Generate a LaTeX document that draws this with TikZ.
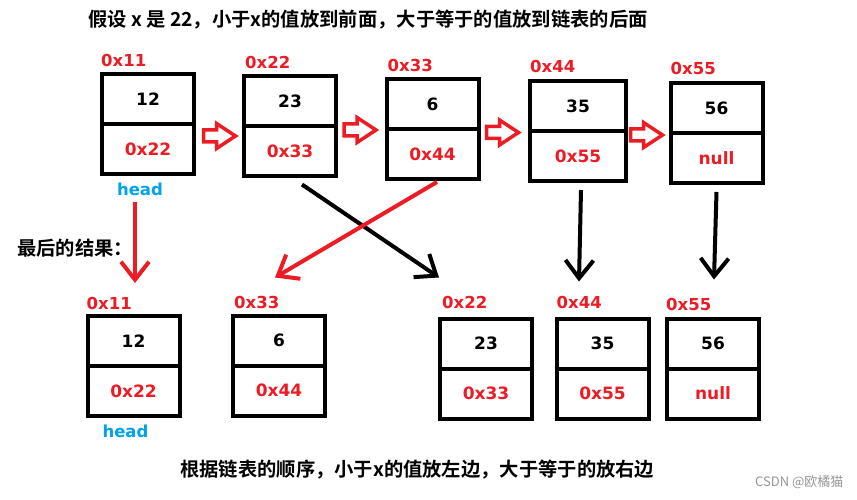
\documentclass[tikz,border=0pt]{standalone}
\usepackage{fontspec}
\setmainfont{DejaVu Sans}
\newfontfamily\cjk{Noto Sans CJK SC}[BoldFont={Noto Sans CJK SC Bold}]
\usetikzlibrary{arrows.meta,calc}
\definecolor{pred}{RGB}{237,28,36}
\definecolor{hblue}{RGB}{0,162,232}
\definecolor{wm}{RGB}{150,150,150}
\tikzset{
  cell/.style={draw=black, line width=4pt, minimum width=92pt, minimum height=50pt,
    inner sep=0pt, font=\bfseries\fontsize{17}{17}\selectfont},
  ptr/.style={cell, text=pred},
  addr/.style={anchor=west, inner sep=0pt, text=pred, font=\bfseries\fontsize{16.5}{16.5}\selectfont},
  headlbl/.style={inner sep=0pt, text=hblue, font=\bfseries\fontsize{16.5}{16.5}\selectfont},
  cjktext/.style={anchor=west, inner sep=0pt, font=\cjk\bfseries\fontsize{19.3}{19.3}\selectfont},
  blkarrow/.style={draw=black, line width=4pt, -{Straight Barb[length=18pt,width=28pt]}},
  redarrow/.style={blkarrow, draw=pred},
  hollowarrow/.pic={\draw[pred, line width=3.5pt, line join=miter]
    (-16,-6) -- (-3,-6) -- (-3,-12.5) -- (16,0) -- (-3,12.5) -- (-3,6) -- (-16,6) -- cycle;}
}
\begin{document}
\begin{tikzpicture}[x=1pt,y=-1pt]
\useasboundingbox (0,0) rectangle (857,500);
\fill[white] (0,0) rectangle (857,500);

% title
\node[cjktext] (title) at (88,20) {假设 x 是 22，小于x的值放到前面，大于等于的值放到链表的后面};

% top row
\node[cell] (t1) at (148,99.5) {12};
\node[ptr]  (p1) at (148,149.5) {0x22};
\node[cell] (t2) at (290,101.5) {23};
\node[ptr]  (p2) at (290,151.5) {0x33};
\node[cell] (t3) at (432.5,104.5) {6};
\node[ptr]  (p3) at (432.5,154.5) {0x44};
\node[cell, minimum width=96pt] (t4) at (578,106) {35};
\node[ptr, minimum width=96pt]  (p4) at (578,156) {0x55};
\node[cell] (t5) at (716.5,108) {56};
\node[ptr]  (p5) at (716.5,158) {null};

\node[addr] (a1) at ($(t1.north west)+(1,-12)$) {0x11};
\node[addr] (a2) at ($(t2.north west)+(3,-12)$) {0x22};
\node[addr] (a3) at ($(t3.north west)+(3,-12)$) {0x33};
\node[addr] (a4) at ($(t4.north west)+(2,-13)$) {0x44};
\node[addr] (a5) at ($(t5.north west)+(2,-13)$) {0x55};

\node[headlbl] (head1) at ($(p1.south)+(-8,13)$) {head};

\pic at (219.5,136) {hollowarrow};
\pic at (360,130) {hollowarrow};
\pic at (502.5,132.5) {hollowarrow};
\pic at (646.5,135) {hollowarrow};

% label
\node[cjktext] (result) at (17,248) {最后的结果：};

% bottom row
\node[cell] (T1) at (133.5,341) {12};
\node[ptr]  (P1) at (133.5,391) {0x22};
\node[cell] (T2) at (279,340.5) {6};
\node[ptr]  (P2) at (279,390.5) {0x44};
\node[cell] (T3) at (486,343.5) {23};
\node[ptr]  (P3) at (486,393.5) {0x33};
\node[cell] (T4) at (602.5,343.5) {35};
\node[ptr]  (P4) at (602.5,393.5) {0x55};
\node[cell] (T5) at (713,343.5) {56};
\node[ptr]  (P5) at (713,393.5) {null};

\node[addr] (A1) at ($(T1.north west)+(1,-11)$) {0x11};
\node[addr] (A2) at ($(T2.north west)+(3,-11)$) {0x33};
\node[addr] (A3) at ($(T3.north west)+(4,-14)$) {0x22};
\node[addr] (A4) at ($(T4.north west)+(2,-14)$) {0x44};
\node[addr] (A5) at ($(T5.north west)+(1,-12)$) {0x55};

\node[headlbl] (head2) at ($(P1.south)+(-8,13.5)$) {head};

% connectors
\draw[redarrow] ($(head1.south)+(-5,6)$) -- ($(T1.north)+(1.5,-31)$);
\draw[blkarrow] ($(p2.south)+(12,6)$) -- ($(T3.north west)+(1,-39)$);
\draw[redarrow] ($(p3.south)+(4.5,0.5)$) -- ($(T2.north)+(-4,-36)$);
\draw[blkarrow] ($(p4.south)+(3,7)$) -- ($(T4.north)+(-23.5,-35)$);
\draw[blkarrow] ($(p5.south)+(0,7)$) -- ($(T5.north)+(1,-37)$);

% bottom text
\node[cjktext] (note) at (180,470) {根据链表的顺序，小于x的值放左边，大于等于的放右边};
\node[anchor=west, inner sep=0pt, text=wm, font=\cjk\fontsize{13}{13}\selectfont] (wmk) at (755,482) {CSDN @欧橘猫};
\end{tikzpicture}
\end{document}
